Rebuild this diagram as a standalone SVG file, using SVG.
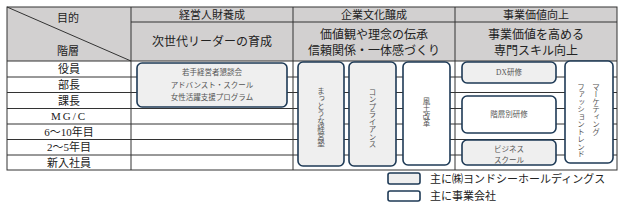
<svg xmlns="http://www.w3.org/2000/svg" width="624" height="207" viewBox="0 0 624 207">
<style>
text{font-family:"Liberation Serif","Noto Sans CJK JP",serif;fill:#222}
.hd{fill:#d2d0d0}
.ln{stroke:#333;stroke-width:1;fill:none}
.h1{font-size:11px;text-anchor:middle}
.h2{font-size:12px;text-anchor:middle}
.rl{font-size:11px;text-anchor:middle;dominant-baseline:central}
.bx{stroke:#1e3a56;stroke-width:1.6}
.g{fill:#efefef}
.w{fill:#ffffff}
.bt{font-size:7.5px;text-anchor:middle;fill:#555;dominant-baseline:central}
.vt{font-family:"Noto Sans CJK JP",sans-serif;font-size:7.5px;fill:#555;writing-mode:vertical-rl;text-orientation:mixed;text-anchor:start}
.lg{font-size:11px;fill:#222}
</style>
<rect width="624" height="207" fill="#fff"/>
<g id="table">
<rect class="hd" x="7" y="7" width="610" height="54"/>
<rect x="7" y="61" width="124" height="109" fill="#fff"/>
<g class="ln">
<rect x="7" y="7" width="610" height="163"/>
<line x1="7" y1="7" x2="131" y2="61"/>
<line x1="131" y1="22" x2="617" y2="22"/>
<line x1="131" y1="7" x2="131" y2="170"/>
<line x1="293" y1="7" x2="293" y2="170"/>
<line x1="455" y1="7" x2="455" y2="170"/>
<line x1="7" y1="61" x2="617" y2="61"/>
<line x1="7" y1="77" x2="617" y2="77"/>
<line x1="7" y1="92.5" x2="617" y2="92.5"/>
<line x1="7" y1="108.5" x2="617" y2="108.5"/>
<line x1="7" y1="124" x2="617" y2="124"/>
<line x1="7" y1="139.5" x2="617" y2="139.5"/>
<line x1="7" y1="155" x2="617" y2="155"/>
</g>
<text class="h1" x="68" y="22">目的</text>
<text class="h1" x="68" y="55">階層</text>
<text class="h1" x="212" y="19">経営人財養成</text>
<text class="h1" x="374" y="19">企業文化醸成</text>
<text class="h1" x="536" y="19">事業価値向上</text>
<text class="h2" x="212" y="46">次世代リーダーの育成</text>
<text class="h2" x="374" y="39">価値観や理念の伝承</text>
<text class="h2" x="374" y="55">信頼関係・一体感づくり</text>
<text class="h2" x="536" y="39">事業価値を高める</text>
<text class="h2" x="536" y="55">専門スキル向上</text>
<text class="rl" x="69" y="69">役員</text>
<text class="rl" x="69" y="84.8">部長</text>
<text class="rl" x="69" y="100.5">課長</text>
<text class="rl" x="69" y="116.2" letter-spacing="2">MG/C</text>
<text class="rl" x="69" y="131.8">6～10年目</text>
<text class="rl" x="69" y="147.2">2～5年目</text>
<text class="rl" x="69" y="162.5">新入社員</text>
</g>
<g id="n1">
<rect class="bx g" x="137" y="63" width="150" height="44" rx="5"/>
<text class="bt" x="212" y="72.5">若手経営者懇談会</text>
<text class="bt" x="212" y="85">アドバンスト・スクール</text>
<text class="bt" x="212" y="97.5">女性活躍支援プログラム</text>
</g>
<g id="n2">
<rect class="bx g" x="298" y="62" width="46" height="104" rx="5"/>
<text class="vt" x="321" y="87">まっとうな経営塾</text>
</g>
<g id="n3">
<rect class="bx g" x="349" y="62" width="47" height="104" rx="5"/>
<text class="vt" x="372.5" y="88">コンプライアンス</text>
</g>
<g id="n4">
<rect class="bx w" x="403" y="62" width="47" height="103" rx="5"/>
<text class="vt" x="426.5" y="97" font-size="8px">風土改革</text>
</g>
<g id="n5">
<rect class="bx g" x="462" y="62" width="94" height="21" rx="5"/>
<text class="bt" x="509" y="72.5">DX研修</text>
</g>
<g id="n6">
<rect class="bx w" x="462" y="96" width="94" height="37" rx="5"/>
<text class="bt" x="509" y="114.5">階層別研修</text>
</g>
<g id="n7">
<rect class="bx g" x="462" y="140" width="94" height="25" rx="5"/>
<text class="bt" x="509" y="149">ビジネス</text>
<text class="bt" x="509" y="160.5">スクール</text>
</g>
<g id="n8">
<rect class="bx w" x="565" y="61" width="48" height="102" rx="5"/>
<text class="vt" x="596" y="83">マーケティング</text>
<text class="vt" x="581" y="83">ファッショントレンド</text>
</g>
<g id="connectors"></g>
<g id="legend">
<rect class="bx g" x="388" y="173" width="32" height="11" rx="2"/>
<text class="lg" x="430" y="182.5">主に㈱ヨンドシーホールディングス</text>
<rect class="bx w" x="388" y="191" width="32" height="10" rx="2"/>
<text class="lg" x="430" y="200">主に事業会社</text>
</g>
</svg>
